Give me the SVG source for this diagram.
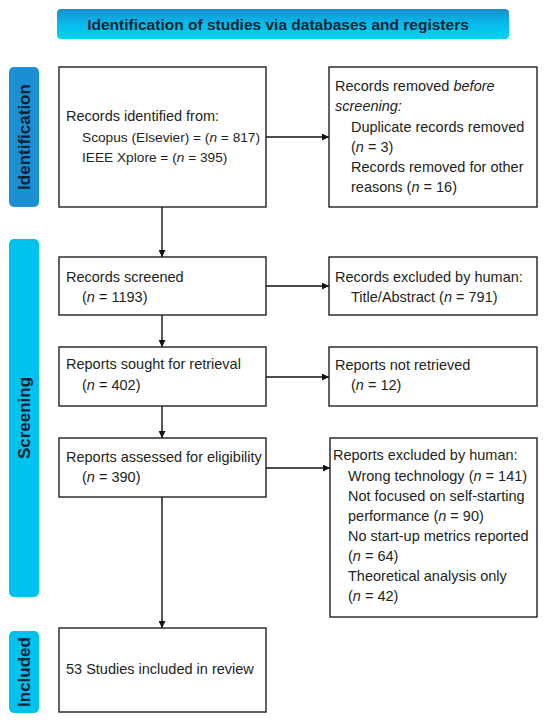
<svg xmlns="http://www.w3.org/2000/svg" width="550" height="725" viewBox="0 0 550 725">
<defs>
<linearGradient id="tg" x1="0" y1="0" x2="0" y2="1">
<stop offset="0" stop-color="#1a8ccf"/>
<stop offset="0.45" stop-color="#08b8e8"/>
<stop offset="1" stop-color="#00d4f5"/>
</linearGradient>
<marker id="ah" viewBox="0 0 10 10" refX="10" refY="5" markerWidth="7" markerHeight="7" markerUnits="userSpaceOnUse" orient="auto">
<path d="M0,0 L10,5 L0,10 z" fill="#111"/>
</marker>
<style>
.box{fill:#fff;stroke:#231f20;stroke-width:1.4}
.t{font-family:"Liberation Sans",Arial,sans-serif;font-size:14.5px;fill:#231f20}
.s{font-size:13.7px}
.i{font-style:italic}
.side{font-family:"Liberation Sans",Arial,sans-serif;font-size:17px;font-weight:bold;fill:#0d2233}
.ttl{font-family:"Liberation Sans",Arial,sans-serif;font-size:15.5px;font-weight:bold;fill:#0d2233}
.c{fill:none;stroke:#111;stroke-width:1.4}
</style>
</defs>
<rect width="550" height="725" fill="#fff"/>
<g id="title">
<rect x="57" y="9" width="452" height="30" rx="4" fill="url(#tg)"/>
<text class="ttl" x="278" y="29.5" text-anchor="middle">Identification of studies via databases and registers</text>
</g>
<g id="phase-identification">
<rect x="9" y="67" width="30" height="140" rx="5" fill="#1a8fd2"/>
<text class="side" transform="translate(30,137) rotate(-90)" text-anchor="middle">Identification</text>
</g>
<g id="phase-screening">
<rect x="9" y="239" width="30" height="358" rx="5" fill="#00c2ee"/>
<text class="side" transform="translate(30,418) rotate(-90)" text-anchor="middle">Screening</text>
</g>
<g id="phase-included">
<rect x="9" y="631" width="30" height="82" rx="5" fill="#00c2ee"/>
<text class="side" transform="translate(30,672) rotate(-90)" text-anchor="middle">Included</text>
</g>
<g id="connectors">
<line class="c" x1="266" y1="137" x2="329" y2="137" marker-end="url(#ah)"/>
<line class="c" x1="162" y1="207" x2="162" y2="257" marker-end="url(#ah)"/>
<line class="c" x1="266" y1="286" x2="329" y2="286" marker-end="url(#ah)"/>
<line class="c" x1="162" y1="315" x2="162" y2="347" marker-end="url(#ah)"/>
<line class="c" x1="266" y1="377" x2="329" y2="377" marker-end="url(#ah)"/>
<line class="c" x1="162" y1="406" x2="162" y2="438" marker-end="url(#ah)"/>
<line class="c" x1="266" y1="468" x2="330" y2="468" marker-end="url(#ah)"/>
<line class="c" x1="162" y1="497" x2="162" y2="628" marker-end="url(#ah)"/>
</g>
<g id="records-identified">
<rect class="box" x="59" y="67" width="207" height="140"/>
<text class="t" x="66" y="121">Records identified from:</text>
<text class="t s" x="82" y="142">Scopus (Elsevier) = (<tspan class="i">n</tspan> = 817)</text>
<text class="t s" x="82" y="162">IEEE Xplore = (<tspan class="i">n</tspan> = 395)</text>
</g>
<g id="records-removed">
<rect class="box" x="329" y="67" width="208" height="140"/>
<text class="t" x="335" y="91">Records removed <tspan class="i">before</tspan></text>
<text class="t i" x="335" y="111">screening:</text>
<text class="t" x="351" y="132">Duplicate records removed</text>
<text class="t" x="351" y="152">(<tspan class="i">n</tspan> = 3)</text>
<text class="t" x="351" y="172">Records removed for other</text>
<text class="t" x="351" y="192">reasons (<tspan class="i">n</tspan> = 16)</text>
</g>
<g id="records-screened">
<rect class="box" x="59" y="257" width="207" height="58"/>
<text class="t" x="66" y="282">Records screened</text>
<text class="t" x="82" y="302">(<tspan class="i">n</tspan> = 1193)</text>
</g>
<g id="records-excluded">
<rect class="box" x="329" y="257" width="208" height="58"/>
<text class="t" x="335" y="282">Records excluded by human:</text>
<text class="t" x="351" y="302">Title/Abstract (<tspan class="i">n</tspan> = 791)</text>
</g>
<g id="reports-sought">
<rect class="box" x="59" y="347" width="207" height="59"/>
<text class="t" x="66" y="369">Reports sought for retrieval</text>
<text class="t" x="82" y="390">(<tspan class="i">n</tspan> = 402)</text>
</g>
<g id="reports-not-retrieved">
<rect class="box" x="329" y="347" width="208" height="59"/>
<text class="t" x="335" y="370">Reports not retrieved</text>
<text class="t" x="351" y="390">(<tspan class="i">n</tspan> = 12)</text>
</g>
<g id="reports-assessed">
<rect class="box" x="59" y="438" width="207" height="59"/>
<text class="t" x="66" y="462">Reports assessed for eligibility</text>
<text class="t" x="82" y="482">(<tspan class="i">n</tspan> = 390)</text>
</g>
<g id="reports-excluded">
<rect class="box" x="330" y="438" width="207" height="179"/>
<text class="t" x="333" y="460">Reports excluded by human:</text>
<text class="t" x="348" y="481">Wrong technology (<tspan class="i">n</tspan> = 141)</text>
<text class="t" x="348" y="501">Not focused on self-starting</text>
<text class="t" x="348" y="521">performance (<tspan class="i">n</tspan> = 90)</text>
<text class="t" x="348" y="541">No start-up metrics reported</text>
<text class="t" x="348" y="561">(<tspan class="i">n</tspan> = 64)</text>
<text class="t" x="348" y="581">Theoretical analysis only</text>
<text class="t" x="348" y="601">(<tspan class="i">n</tspan> = 42)</text>
</g>
<g id="studies-included">
<rect class="box" x="59" y="628" width="207" height="84"/>
<text class="t" x="66" y="674">53 Studies included in review</text>
</g>
</svg>
